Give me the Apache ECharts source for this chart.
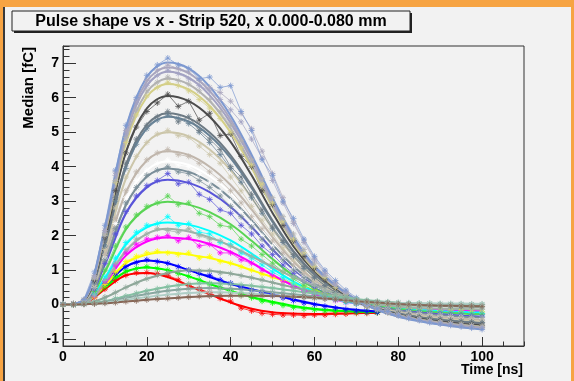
<!DOCTYPE html>
<html><head><meta charset="utf-8">
<script src="https://cdn.jsdelivr.net/npm/echarts@6/dist/echarts.min.js"></script>
<style>html,body{margin:0;padding:0;background:#f7a443;} #c{width:574px;height:381px;}</style>
</head><body><div id="c"></div>
<script>
// time grids (ns)
const T = [0,2.5,5,7.5,10,12.5,15,17.5,20,22.5,25,27.5,30,32.5,35,37.5,40,42.5,45,47.5,50,52.5,55,57.5,60,62.5,65,67.5,70,72.5,75,77.5,80,82.5,85,87.5,90,92.5,95,97.5,100];
const TF = [0,5,10,15,20,25,30,35,40,45,50,55,60,65,70,75,80,85,90,95,100];

// measured medians (m*) and fitted shapes (f*), in fC
const mRed = [0,.01,.03,.2,.45,.7,.85,.92,.93,.9,.85,.72,.55,.45,.35,.18,.1,-.1,-.18,-.25,-.28,-.3,-.3,-.32,-.3,-.3,-.28,-.27,-.25,-.25,-.23];
const fRed = [0,.04,.45,.85,.92,.8,.55,.3,.06,-.12,-.22,-.26,-.27,-.26,-.25,-.24];
const mGreen = [0,0,.05,.25,.52,.8,.98,1.05,1.1,1.05,1.0,.9,.82,.72,.6,.5,.4,.3,.2,.1,.05,-.02,-.08,-.12,-.15,-.18,-.2,-.2,-.22,-.22,-.23];
const fGreen = [0,.05,.5,.95,1.08,1.0,.82,.6,.4,.22,.08,-.04,-.12,-.17,-.2,-.22];
const mBlue = [0,.01,.06,.28,.6,.9,1.1,1.22,1.3,1.25,1.2,1.1,1.0,.9,.85,.72,.62,.5,.42,.35,.28,.2,.12,.05,0,-.05,-.1,-.14,-.18,-.2,-.22];
const fBlue = [0,.05,.55,1.1,1.28,1.2,1.0,.8,.6,.45,.3,.15,.02,-.08,-.15,-.2];
const mYellow = [0,0,.04,.22,.58,.95,1.25,1.4,1.5,1.55,1.5,1.45,1.5,1.35,1.4,1.25,1.2,1.1,1.0,.88,.8,.7,.6,.5,.42,.32,.25,.16,.1,.03,-.02,-.06,-.1,-.12,-.14,-.16,-.17,-.18,-.19,-.2,-.21];
const fYellow = [0,.05,.55,1.2,1.45,1.52,1.45,1.35,1.2,1.0,.8,.6,.42,.25,.1,-.02,-.1,-.14,-.17,-.19,-.2];
const mMagenta = [0,.01,.03,.25,.68,1.15,1.5,1.75,1.9,1.95,2.0,1.85,1.95,1.7,1.75,1.5,1.5,1.3,1.2,1.0,.85,.68,.52,.4,.3,.2,.12,.06,.02,-.03,-.06,-.09,-.12,-.14,-.16,-.18,-.2,-.22,-.24,-.26,-.27];
const fMagenta = [0,.04,.62,1.42,1.83,1.95,1.9,1.76,1.53,1.22,.86,.55,.31,.16,.04,-.04,-.09,-.13,-.16,-.18,-.19];
const mCyan = [0,0,.04,.3,.8,1.35,1.8,2.1,2.3,2.35,2.55,2.3,2.35,2.1,2.05,1.8,1.75,1.5,1.35,1.15,.95,.78,.6,.45,.33,.22,.14,.07,.02,-.03,-.07,-.1,-.13,-.15,-.17,-.19,-.21,-.22,-.24,-.25,-.26];
const fCyan = [0,.05,.76,1.74,2.24,2.38,2.32,2.14,1.86,1.48,1.05,.67,.38,.19,.05,-.04,-.11,-.15,-.19,-.21,-.23];
const mLgreen = [0,.01,.04,.38,1.0,1.7,2.25,2.6,2.85,2.95,3.15,2.9,2.95,2.65,2.55,2.3,2.25,1.9,1.7,1.45,1.2,.95,.75,.56,.42,.28,.18,.1,.03,-.02,-.06,-.1,-.13,-.16,-.18,-.2,-.22,-.24,-.25,-.27,-.28];
const fLgreen = [0,.06,.95,2.18,2.8,2.98,2.9,2.68,2.33,1.85,1.32,.84,.48,.24,.06,-.05,-.13,-.19,-.23,-.26,-.28];
const mViolet = [0,0,.05,.45,1.2,2.05,2.7,3.15,3.45,3.6,3.8,3.5,3.55,3.2,3.05,2.75,2.65,2.3,2.05,1.7,1.45,1.15,.9,.68,.5,.34,.22,.12,.04,-.03,-.08,-.12,-.16,-.19,-.22,-.25,-.27,-.29,-.31,-.33,-.35];
const fViolet = [0,.07,1.16,2.64,3.4,3.62,3.53,3.26,2.83,2.25,1.6,1.02,.58,.29,.07,-.07,-.17,-.23,-.28,-.32,-.35];
const mWhite = [0,.01,.1,.5,1.35,2.35,3.1,3.6,3.9,4.1,4.2,4.05,4.0,3.8,3.55,3.3,3.0,2.7,2.35,2.0,1.7,1.35,1.05,.8,.6,.42,.26,.14,.04,-.03,-.09,-.14,-.18,-.22,-.26,-.29,-.31,-.34,-.36,-.38,-.4];
const fWhite = [0,.08,1.33,3.03,3.9,4.15,4.05,3.73,3.24,2.57,1.83,1.16,.66,.33,.08,-.08,-.19,-.27,-.32,-.37,-.4];
const mSlate = [0,0,.06,.48,1.3,2.2,2.95,3.4,3.75,3.9,4.0,3.85,3.8,3.6,3.4,3.15,2.85,2.55,2.25,1.9,1.6,1.3,1.0,.78,.58,.4,.25,.13,.04,-.03,-.09,-.13,-.17,-.21,-.24,-.27,-.3,-.32,-.34,-.36,-.38];
const fSlate = [0,.08,1.26,2.88,3.71,3.95,3.85,3.55,3.08,2.45,1.74,1.11,.63,.32,.08,-.07,-.18,-.25,-.31,-.35,-.38];
const mTan = [0,.02,.08,.55,1.45,2.5,3.3,3.85,4.2,4.4,4.5,4.35,4.3,4.1,3.85,3.6,3.3,2.95,2.55,2.2,1.85,1.5,1.15,.9,.65,.45,.28,.15,.05,-.04,-.1,-.16,-.2,-.25,-.29,-.32,-.35,-.38,-.4,-.42,-.44];
const fTan = [0,.09,1.42,3.25,4.18,4.45,4.34,4.0,3.47,2.76,1.96,1.25,.71,.36,.09,-.09,-.21,-.3,-.36,-.41,-.44];
const mBeige = [0,0,.1,.6,1.6,2.8,3.7,4.3,4.7,4.95,5.05,4.9,4.85,4.6,4.35,4.1,3.7,3.3,2.85,2.45,2.05,1.65,1.3,1.0,.72,.5,.32,.18,.06,-.04,-.12,-.18,-.23,-.28,-.32,-.36,-.39,-.42,-.44,-.46,-.48];
const fBeige = [0,.1,1.6,3.65,4.7,5.0,4.88,4.5,3.9,3.1,2.2,1.4,.8,.4,.1,-.1,-.24,-.34,-.41,-.46,-.5];
const mTeal = [.02,0,.08,.62,1.7,3.0,3.95,4.65,5.1,5.35,5.5,5.4,5.25,5.0,4.7,4.35,3.95,3.55,3.1,2.65,2.2,1.8,1.4,1.05,.78,.55,.35,.2,.07,-.04,-.12,-.19,-.25,-.3,-.35,-.39,-.42,-.45,-.48,-.5,-.52];
const fTeal = [0,.11,1.74,3.98,5.12,5.45,5.31,4.9,4.25,3.38,2.4,1.53,.87,.44,.11,-.11,-.26,-.37,-.45,-.5,-.54];
const mDslate = [0,.01,.13,.72,1.85,3.1,4.1,4.8,5.2,5.45,5.6,5.3,5.45,5.05,4.8,4.5,4.0,3.7,3.2,2.75,2.25,1.85,1.45,1.1,.8,.55,.36,.2,.06,-.05,-.13,-.2,-.26,-.31,-.36,-.4,-.43,-.46,-.49,-.51,-.53];
const fDslate = [0,.11,1.78,4.05,5.22,5.55,5.41,4.99,4.33,3.44,2.44,1.55,.89,.44,.11,-.11,-.27,-.37,-.46,-.51,-.55];
const mDark = [0,.03,.1,.7,1.95,3.3,4.4,5.15,5.6,5.85,6.1,5.75,5.9,5.35,5.55,4.9,4.95,4.3,4.0,3.3,2.9,2.3,1.85,1.4,1.05,.72,.48,.26,.1,-.05,-.14,-.22,-.29,-.35,-.4,-.44,-.48,-.52,-.55,-.57,-.6];
const fDark = [0,.12,1.94,4.42,5.69,6.05,5.9,5.45,4.72,3.75,2.66,1.69,.97,.48,.12,-.12,-.29,-.41,-.5,-.56,-.6];
const mKhaki = [0,0,.12,.78,2.05,3.55,4.7,5.5,6.05,6.3,6.45,6.35,6.2,5.95,5.7,5.4,5.0,4.55,4.05,3.5,2.95,2.4,1.9,1.5,1.1,.78,.5,.3,.1,-.04,-.15,-.23,-.3,-.37,-.42,-.47,-.51,-.55,-.58,-.61,-.64];
const fKhaki = [0,.13,2.05,4.67,6.02,6.4,6.24,5.76,4.99,3.97,2.82,1.79,1.02,.51,.13,-.13,-.31,-.44,-.53,-.6,-.64];
const mGray = [0,.02,.14,.75,2.0,3.6,4.85,5.65,6.2,6.45,6.6,6.5,6.4,6.2,5.95,5.6,5.2,4.75,4.2,3.65,3.1,2.55,2.05,1.6,1.2,.85,.55,.32,.12,-.03,-.14,-.22,-.3,-.36,-.42,-.46,-.5,-.54,-.57,-.6,-.63];
const fGray = [0,.13,2.1,4.78,6.16,6.55,6.39,5.9,5.11,4.06,2.88,1.83,1.05,.52,.13,-.14,-.32,-.45,-.54,-.61,-.66];
const mLav = [.01,0,.1,.8,2.1,3.75,4.95,5.85,6.35,6.65,6.8,6.7,6.55,6.35,6.2,5.95,5.65,5.3,4.8,4.25,3.6,2.95,2.35,1.8,1.3,.9,.6,.35,.14,-.02,-.13,-.22,-.3,-.37,-.43,-.48,-.52,-.56,-.6,-.63,-.66];
const fLav = [0,.13,2.16,4.93,6.35,6.75,6.58,6.07,5.27,4.19,2.97,1.89,1.08,.54,.13,-.14,-.33,-.46,-.56,-.63,-.68];
const mLav2 = [0,.01,.12,.85,2.15,3.85,5.05,5.95,6.5,6.8,6.95,6.85,6.75,6.5,6.3,6.15,5.9,5.55,5.1,4.45,3.8,3.1,2.4,1.85,1.35,.95,.62,.38,.16,0,-.12,-.22,-.31,-.38,-.44,-.5,-.55,-.58,-.62,-.65,-.68];
const fLav2 = [0,.14,2.2,5.02,6.47,6.88,6.71,6.19,5.37,4.27,3.03,1.93,1.1,.55,.14,-.15,-.34,-.47,-.57,-.65,-.7];
const mTop = [.02,0,.15,.95,2.3,3.9,5.2,6.0,6.65,6.95,7.15,6.95,6.85,6.55,6.6,6.3,6.35,5.6,5.05,4.2,3.75,3.0,2.5,1.9,1.4,1.0,.7,.42,.2,.02,-.12,-.2,-.32,-.4,-.46,-.52,-.56,-.6,-.64,-.68,-.72];
const fTop = [0,.14,2.25,5.12,6.6,7.02,6.85,6.32,5.48,4.35,3.09,1.97,1.12,.56,.14,-.16,-.35,-.48,-.58,-.66,-.72];
const mSage = [0,0,.05,.28,.7,1.2,1.6,1.9,2.05,2.2,2.15,2.1,2.2,2.0,1.9,1.85,1.7,1.55,1.4,1.25,1.1,.95,.8,.68,.55,.42,.32,.22,.14,.07,.02,-.02,-.05,-.07,-.08,-.1,-.11,-.12,-.12,-.13,-.14];
const fSage = [0,.04,.65,1.55,2.05,2.2,2.12,1.95,1.7,1.4,1.1,.8,.55,.33,.15,.02,-.06,-.1,-.12,-.13,-.14];
const mMoss = [0,0,.02,.08,.22,.35,.5,.62,.75,.85,.92,.96,1.0,.98,.98,.92,.9,.84,.78,.72,.64,.56,.5,.44,.37,.3,.25,.2,.14,.1,.06,.03,0,-.02,-.03,-.04,-.05,-.05,-.06,-.06,-.07];
const fMoss = [0,.02,.2,.5,.75,.92,1.0,.98,.9,.78,.64,.5,.37,.25,.14,.06,0,-.03,-.05,-.06,-.07];
const mMint = [0,.01,.02,.05,.1,.18,.25,.33,.4,.46,.52,.56,.6,.62,.62,.62,.6,.58,.55,.52,.48,.44,.4,.36,.32,.28,.24,.2,.16,.13,.1,.08,.06,.05,.04,.03,.02,.02,.01,.01,0];
const fMint = [0,.02,.1,.25,.4,.52,.6,.62,.6,.55,.48,.4,.32,.24,.16,.1,.05,.02,0,-.01,-.02];
const mJade = [0,0,.02,.04,.08,.14,.2,.26,.31,.36,.4,.43,.46,.47,.48,.48,.46,.44,.42,.39,.36,.33,.3,.27,.24,.21,.18,.15,.12,.1,.08,.07,.05,.04,.03,.03,.02,.02,.01,.01,.01];
const fJade = [0,.01,.08,.2,.31,.4,.46,.48,.46,.42,.36,.3,.24,.18,.12,.08,.05,.03,.02,.01,.01];
const mPale = [0,0,.01,.03,.05,.09,.14,.18,.22,.26,.29,.32,.34,.35,.36,.36,.35,.34,.32,.3,.28,.25,.23,.2,.18,.16,.14,.12,.1,.08,.07,.06,.05,.05,.04,.04,.03,.03,.03,.02,.02];
const fPale = [0,.01,.05,.14,.22,.29,.34,.36,.35,.32,.28,.23,.18,.14,.1,.07,.05,.04,.03,.03,.02];
const mBrown = [0,0,.01,.02,.04,.06,.09,.11,.14,.16,.18,.2,.22,.24,.25,.26,.26,.26,.26,.26,.25,.24,.23,.22,.2,.17,.15,.12,.1,.08,.06,.04,.02,.01,-.01,-.02,-.03,-.03,-.04,-.04,-.05];
const fBrown = [0,.01,.04,.09,.14,.18,.22,.25,.26,.26,.25,.23,.2,.15,.1,.06,.02,-.01,-.03,-.04,-.05];

// [colour, measured, fit] in drawing order
const ROWS = [
  ['#ff0000', mRed, fRed],
  ['#00ff00', mGreen, fGreen],
  ['#0000ff', mBlue, fBlue],
  ['#ffff00', mYellow, fYellow],
  ['#ff00ff', mMagenta, fMagenta],
  ['#00ffff', mCyan, fCyan],
  ['#59d454', mLgreen, fLgreen],
  ['#5954d9', mViolet, fViolet],
  ['#ffffff', mWhite, fWhite],
  ['#7a8e99', mSlate, fSlate],
  ['#c0b6ac', mTan, fTan],
  ['#ccc6aa', mBeige, fBeige],
  ['#688296', mTeal, fTeal],
  ['#6d7a84', mDslate, fDslate],
  ['#4c4c4c', mDark, fDark],
  ['#d4cf87', mKhaki, fKhaki],
  ['#b2b2b2', mGray, fGray],
  ['#a3a2c3', mLav, fLav],
  ['#aaa6be', mLav2, fLav2],
  ['#7d99d1', mTop, fTop],
  ['#9fb1a8', mSage, fSage],
  ['#8fa89a', mMoss, fMoss],
  ['#84c1a3', mMint, fMint],
  ['#89a8a0', mJade, fJade],
  ['#afcec6', mPale, fPale],
  ['#876656', mBrown, fBrown]
];

const TITLE = 'Pulse shape vs x - Strip 520, x 0.000-0.080 mm';
const X_TITLE = 'Time [ns]';
const Y_TITLE = 'Median [fC]';
const FONT = '"Liberation Sans", Arial, Helvetica, sans-serif';
const AST = 'path://M5,0L5,10M0,5L10,5M1.6,1.6L8.4,8.4M8.4,1.6L1.6,8.4';

const series = [];
ROWS.forEach(([c, m, f]) => {
  series.push({
    type: 'line', data: m.map((v, i) => [T[i], v]),
    symbol: AST, symbolSize: 6, showSymbol: true, silent: true, animation: false,
    lineStyle: { color: c, width: 1, opacity: 0.7 },
    itemStyle: { color: 'rgba(0,0,0,0)', borderColor: c, borderWidth: 1, opacity: 0.8 }
  });
  series.push({
    type: 'line', data: f.map((v, i) => [TF[i], v]), smooth: 0.35,
    symbol: 'none', silent: true, animation: false,
    lineStyle: { color: c, width: 2 }
  });
});

const axisCol = '#333';
const chart = echarts.init(document.getElementById('c'), null, { renderer: 'canvas' });
chart.setOption({
  backgroundColor: '#f7a443',
  animation: false,
  grid: { left: 63, top: 46, width: 461, height: 300, show: true, borderColor: axisCol, borderWidth: 1,
          backgroundColor: '#f2f2f2', containLabel: false, outerBoundsMode: 'none' },
  xAxis: [
    { type: 'value', min: 0, max: 110, interval: 20, position: 'bottom',
      axisLine: { show: true, onZero: false, lineStyle: { color: axisCol, width: 1 } },
      axisTick: { show: true, inside: true, length: 9, lineStyle: { color: axisCol } },
      axisLabel: { color: '#000', fontWeight: 'bold', fontSize: 14, fontFamily: FONT, margin: 4,
                   showMaxLabel: false, formatter: v => (v > 100 ? '' : String(v)) },
      splitLine: { show: false } },
    { type: 'value', min: 0, max: 110, interval: 5, position: 'bottom',
      axisLine: { show: false, onZero: false }, axisTick: { show: true, inside: true, length: 4.5, lineStyle: { color: axisCol } },
      axisLabel: { show: false }, splitLine: { show: false } }
  ],
  yAxis: [
    { type: 'value', min: -1.2, max: 7.5, splitNumber: 8, position: 'left',
      axisLine: { show: true, onZero: false, lineStyle: { color: axisCol, width: 1 } },
      axisTick: { show: true, inside: true, length: 13, lineStyle: { color: axisCol } },
      axisLabel: { color: '#000', fontWeight: 'bold', fontSize: 14, fontFamily: FONT, margin: 4,
                   showMinLabel: false, showMaxLabel: false,
                   formatter: v => (Math.abs(v - Math.round(v)) < 1e-6 ? String(Math.round(v)) : '') },
      splitLine: { show: false } },
    { type: 'value', min: -1.2, max: 7.5, interval: 0.2, position: 'left',
      axisLine: { show: false, onZero: false }, axisTick: { show: true, inside: true, length: 6.5, lineStyle: { color: axisCol } },
      axisLabel: { show: false }, splitLine: { show: false } }
  ],
  series: series,
  graphic: [
    { type: 'rect', z: -10, silent: true, shape: { x: 5, y: 7, width: 566, height: 374 }, style: { fill: '#f2f2f2' } },
    { type: 'rect', z: -10, silent: true, shape: { x: 3, y: 7, width: 2, height: 374 }, style: { fill: '#3a3a3a' } },
    { type: 'rect', z: 100, silent: true, shape: { x: 14, y: 13, width: 398, height: 20 }, style: { fill: '#222' } },
    { type: 'rect', z: 101, silent: true, shape: { x: 12, y: 11, width: 398, height: 20 }, style: { fill: '#f2f2f2', stroke: '#222', lineWidth: 1 } },
    { type: 'text', z: 102, silent: true, x: 211, y: 21.5,
      style: { text: TITLE, fill: '#000', font: 'bold 16px ' + FONT, align: 'center', verticalAlign: 'middle' } },
    { type: 'text', z: 102, silent: true, x: 523, y: 370,
      style: { text: X_TITLE, fill: '#000', font: 'bold 14px ' + FONT, align: 'right', verticalAlign: 'middle' } },
    { type: 'text', z: 102, silent: true, x: 29, y: 47, rotation: Math.PI / 2,
      style: { text: Y_TITLE, fill: '#000', font: 'bold 15px ' + FONT, align: 'right', verticalAlign: 'middle' } }
  ]
});
</script>
</body></html>
